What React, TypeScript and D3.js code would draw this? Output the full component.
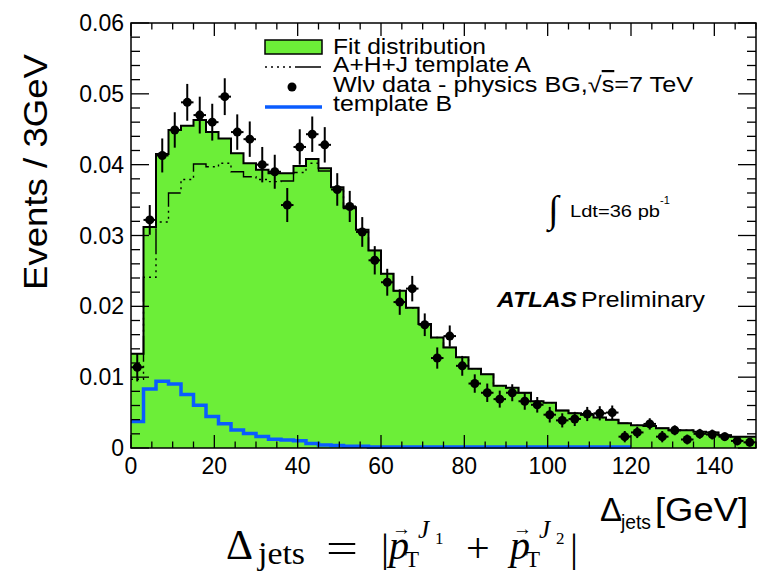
import React from 'react';
import * as d3 from 'd3';

// ---- data (3 GeV bins from 0 to 150 GeV) ----
const BIN_WIDTH = 3;
const fitValues = [0.0133,0.0312,0.0415,0.0449,0.0455,0.0463,0.0446,0.0437,0.0416,0.0402,
  0.0393,0.0388,0.0388,0.0398,0.0408,0.0395,0.0368,0.0340,0.0308,0.0279,
  0.0246,0.0222,0.0198,0.0175,0.0156,0.0142,0.0128,0.0112,0.0104,0.0088,
  0.0085,0.0078,0.0066,0.0064,0.0053,0.0049,0.0047,0.0043,0.0040,0.0035,
  0.0032,0.0031,0.0028,0.0025,0.0025,0.0023,0.0022,0.0018,0.0016,0.0016];
const templateAValues = [0.0097,0.0241,0.0319,0.0360,0.0379,0.0401,0.0397,0.0402,0.0390,0.0383,
  0.0379,0.0376,0.0377,0.0389,0.0402,0.0391,0.0365,0.0338,0.0307,0.0279,
  0.0246,0.0222,0.0198,0.0175,0.0156,0.0142,0.0128,0.0112,0.0104,0.0088,
  0.0085,0.0078,0.0066,0.0064,0.0053,0.0049,0.0047,0.0043,0.0040,0.0035,
  0.0032,0.0031,0.0028,0.0025,0.0025,0.0023,0.0022,0.0018,0.0016,0.0016];
const templateBValues = [0.0036,0.0082,0.0093,0.0089,0.0074,0.0059,0.0043,0.0033,0.0024,0.0019,
  0.0015,0.0011,0.0010,0.0009,0.0005,0.0003,0.0002,0.0001,0.0001,0,
  0,0,0,0,0,0,0,0,0,0,
  0,0,0,0,0,0,0,0,0,0];
const dataValues = [0.0114,0.0322,0.0413,0.0449,0.0488,0.0470,0.0460,0.0496,0.0446,0.0436,
  0.0400,0.0390,0.0343,0.0425,0.0443,0.0428,0.0365,0.0341,0.0305,0.0265,
  0.0234,0.0206,0.0225,0.0174,0.0127,0.0158,0.0116,0.0091,0.0078,0.0069,
  0.0078,0.0066,0.0061,0.0047,0.0039,0.0041,0.0048,0.0049,0.0050,0.0016,
  0.0022,0.0034,0.0016,0.0025,0.0012,0.0020,0.0019,0.0016,0.0010,0.0008];
const dataErrors = [0.0020,0.0021,0.0024,0.0025,0.0026,0.0026,0.0026,0.0026,0.0025,0.0025,
  0.0025,0.0024,0.0024,0.0025,0.0025,0.0025,0.0023,0.0022,0.0021,0.0020,
  0.0019,0.0018,0.0018,0.0016,0.0015,0.0015,0.0014,0.0013,0.0013,0.0012,
  0.0012,0.0012,0.0011,0.0011,0.0010,0.0010,0.0010,0.0010,0.0010,0.0008,
  0.0008,0.0008,0.0008,0.0007,0.0007,0.0007,0.0007,0.0006,0.0006,0.0006];
const xMajorTicks = [0, 20, 40, 60, 80, 100, 120, 140];
const xTickLabels = ['0', '20', '40', '60', '80', '100', '120', '140'];
const yMajorTicks = [0, 0.01, 0.02, 0.03, 0.04, 0.05, 0.06];
const yTickLabels = ['0', '0.01', '0.02', '0.03', '0.04', '0.05', '0.06'];
const legendLabels = ['Fit distribution', 'A+H+J template A', 'template B'];

const GREEN = '#6cee38';
const BLUE = '#0a5cff';
const SANS = "'Liberation Sans', Arial, Helvetica, sans-serif";
const SERIF = "'Liberation Serif', 'Times New Roman', serif";
const DASH_A = '2 4 2 4 2 4 2 4 2 4 26 4';

type P = [number, number];

export default function App() {
  const x = d3.scaleLinear().domain([0, 150]).range([131, 756]);
  const y = d3.scaleLinear().domain([0, 0.06]).range([448, 23]);
  const [x0, x1] = x.range();
  const [yb, yt] = y.range();

  const stepPts = (vals: number[]): P[] => {
    const pts: P[] = vals.map((v, i) => [i * BIN_WIDTH, v] as P);
    pts.push([vals.length * BIN_WIDTH, vals[vals.length - 1]]);
    return pts;
  };
  const line = d3.line<P>().x(d => x(d[0])).y(d => y(d[1])).curve(d3.curveStepAfter);
  const area = d3.area<P>().x(d => x(d[0])).y0(y(0)).y1(d => y(d[1])).curve(d3.curveStepAfter);

  const xMinor = d3.range(0, 150.01, 5);
  const yMinor = d3.range(0, 0.0601, 0.002);

  return (
    <svg width={765} height={574} style={{ position: 'absolute', left: 0, top: 0 }} fontFamily={SANS}>
      <rect x={0} y={0} width={765} height={574} fill="#fff" />
      {/* fit distribution fill */}
      <path d={area(stepPts(fitValues)) || ''} fill={GREEN} />
      {/* template B */}
      <path d={line(stepPts(templateBValues)) || ''} fill="none" stroke={BLUE} strokeWidth={3.5} transform="translate(0,-1)" />
      {/* template A */}
      <path d={line(stepPts(templateAValues)) || ''} fill="none" stroke="#000" strokeWidth={1.4} strokeDasharray={DASH_A} />
      {/* fit outline */}
      <path d={line(stepPts(fitValues)) || ''} fill="none" stroke="#000" strokeWidth={2} />

      {/* frame */}
      <rect x={x0} y={yt} width={x1 - x0} height={yb - yt} fill="none" stroke="#000" strokeWidth={1.5} />
      {/* x ticks */}
      {xMinor.map((t, i) => {
        const major = xMajorTicks.includes(t);
        const len = major ? 13 : 6.5;
        return (
          <g key={'xt' + i} stroke="#000" strokeWidth={1.3}>
            <line x1={x(t)} x2={x(t)} y1={yb} y2={yb - len} />
            <line x1={x(t)} x2={x(t)} y1={yt} y2={yt + len} />
          </g>
        );
      })}
      {/* y ticks */}
      {yMinor.map((t, i) => {
        const major = i % 5 === 0;
        const len = major ? 18 : 9;
        return (
          <g key={'yt' + i} stroke="#000" strokeWidth={1.3}>
            <line x1={x0} x2={x0 + len} y1={y(t)} y2={y(t)} />
            <line x1={x1} x2={x1 - len} y1={y(t)} y2={y(t)} />
          </g>
        );
      })}

      {/* data points */}
      {dataValues.map((v, i) => {
        const cx = x(i * BIN_WIDTH + BIN_WIDTH / 2);
        const e = dataErrors[i];
        return (
          <g key={'d' + i} stroke="#000" strokeWidth={2}>
            <line x1={cx} x2={cx} y1={y(v - e)} y2={y(v + e)} />
            <line x1={x(i * BIN_WIDTH)} x2={x((i + 1) * BIN_WIDTH)} y1={y(v)} y2={y(v)} />
            <circle cx={cx} cy={y(v)} r={4.5} fill="#000" stroke="none" />
          </g>
        );
      })}

      {/* tick labels */}
      {yMajorTicks.map((t, i) => (
        <text key={'yl' + i} x={124} y={y(t)} dy="0.35em" textAnchor="end" fontSize={23} fill="#000">{yTickLabels[i]}</text>
      ))}
      {xMajorTicks.map((t, i) => (
        <text key={'xl' + i} x={x(t)} y={474} textAnchor="middle" fontSize={23} fill="#000">{xTickLabels[i]}</text>
      ))}

      {/* axis titles */}
      <text transform="translate(47,172) rotate(-90)" textAnchor="middle" fontSize={33} textLength={236} lengthAdjust="spacingAndGlyphs">Events / 3GeV</text>
      <text x={600} y={521} fontSize={33}>Δ</text>
      <text x={621} y={529} fontSize={20} textLength={30} lengthAdjust="spacingAndGlyphs">jets</text>
      <text x={655} y={521} fontSize={33} textLength={93} lengthAdjust="spacingAndGlyphs">[GeV]</text>

      {/* formula */}
      <g fontFamily={SERIF} fill="#000">
        <text x={226} y={559} fontSize={42}>Δ</text>
        <text x={258} y={564} fontSize={32} textLength={47} lengthAdjust="spacingAndGlyphs">jets</text>
        <text x={326} y={562} fontSize={42} textLength={32} lengthAdjust="spacingAndGlyphs">=</text>
        <text x={381} y={561} fontSize={40}>|</text>
        <text x={389} y={559} fontSize={40} fontStyle="italic">p</text>
        <text x={392} y={535} fontSize={19}>→</text>
        <text x={405} y={567} fontSize={23}>T</text>
        <text x={418} y={538} fontSize={25} fontStyle="italic">J</text>
        <text x={435} y={544} fontSize={17}>1</text>
        <text x={466} y={562} fontSize={42}>+</text>
        <text x={510} y={559} fontSize={40} fontStyle="italic">p</text>
        <text x={513} y={535} fontSize={19}>→</text>
        <text x={526} y={567} fontSize={23}>T</text>
        <text x={539} y={538} fontSize={25} fontStyle="italic">J</text>
        <text x={556} y={544} fontSize={17}>2</text>
        <text x={570} y={561} fontSize={40}>|</text>
      </g>

      {/* legend */}
      <rect x={265} y={40} width={57} height={14} fill={GREEN} stroke="#000" strokeWidth={1.5} />
      <text x={333} y={54} fontSize={22} textLength={153} lengthAdjust="spacingAndGlyphs">{legendLabels[0]}</text>
      <line x1={265} x2={322} y1={67} y2={67} stroke="#000" strokeWidth={1.4} strokeDasharray={DASH_A} />
      <text x={333} y={72} fontSize={22} textLength={198} lengthAdjust="spacingAndGlyphs">{legendLabels[1]}</text>
      <circle cx={292} cy={87} r={4.5} fill="#000" />
      <text x={333} y={92} fontSize={22} textLength={360} lengthAdjust="spacingAndGlyphs">Wlν data - physics BG,√<tspan style={{ textDecoration: 'overline' }}>s</tspan>=7 TeV</text>
      <line x1={265} x2={322} y1={107} y2={107} stroke={BLUE} strokeWidth={3.5} />
      <text x={333} y={111} fontSize={22} textLength={119} lengthAdjust="spacingAndGlyphs">{legendLabels[2]}</text>

      {/* luminosity */}
      <text x={548} y={222} fontSize={38} fontFamily={SERIF}>∫</text>
      <text x={570} y={217} fontSize={17} textLength={90} lengthAdjust="spacingAndGlyphs">Ldt=36 pb</text>
      <text x={660} y={204} fontSize={11}>-1</text>

      {/* ATLAS label */}
      <text x={497} y={307} fontSize={22} fontWeight="bold" fontStyle="italic" textLength={80} lengthAdjust="spacingAndGlyphs">ATLAS</text>
      <text x={581} y={307} fontSize={22} textLength={124} lengthAdjust="spacingAndGlyphs">Preliminary</text>
    </svg>
  );
}
